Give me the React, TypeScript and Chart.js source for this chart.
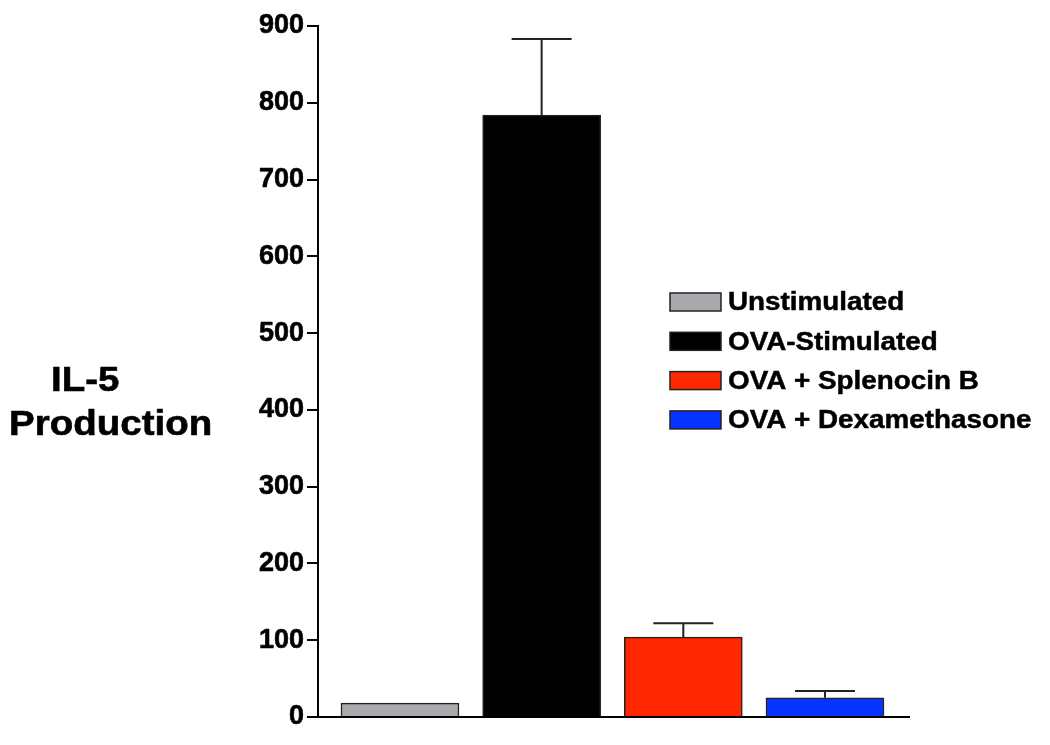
import React, { useEffect, useRef } from "react";
import { Chart, registerables } from "chart.js";

Chart.register(...registerables);

const categories = ["Unstimulated", "OVA-Stimulated", "OVA + Splenocin B", "OVA + Dexamethasone"];
const values = [18, 784, 104, 25];
const errorTops = [18, 883, 122, 34];
const colors = ["#aaaaae", "#000000", "#ff2800", "#0533ff"];
const yTicks = [0, 100, 200, 300, 400, 500, 600, 700, 800, 900];
const yTitleLines = ["IL-5", "Production"];

const FONT = "'Liberation Sans', Arial, sans-serif";

export default function App() {
  const ref = useRef<HTMLCanvasElement | null>(null);

  useEffect(() => {
    const canvas = ref.current;
    if (!canvas) return;

    const extras = {
      id: "extras",
      afterDatasetsDraw(chart: any) {
        const ctx = chart.ctx;
        const xs = chart.scales.x;
        const ys = chart.scales.y;
        ctx.save();
        // error bars
        ctx.strokeStyle = "#222";
        ctx.lineWidth = 2;
        values.forEach((v, i) => {
          const x = xs.getPixelForValue(i);
          const yTop = ys.getPixelForValue(v);
          const yErr = ys.getPixelForValue(errorTops[i]);
          if (errorTops[i] <= v) return;
          ctx.beginPath();
          ctx.moveTo(x, yTop);
          ctx.lineTo(x, yErr);
          ctx.moveTo(x - 30, yErr);
          ctx.lineTo(x + 30, yErr);
          ctx.stroke();
        });
        // y title
        ctx.fillStyle = "#000";
        ctx.strokeStyle = "#000";
        ctx.lineWidth = 0.6;
        ctx.font = `bold 35px ${FONT}`;
        ctx.textBaseline = "alphabetic";
        ctx.textAlign = "left";
        ctx.save();
        ctx.translate(51, 391);
        ctx.scale(1.1, 1);
        ctx.fillText(yTitleLines[0], 0, 0);
        ctx.strokeText(yTitleLines[0], 0, 0);
        ctx.restore();
        ctx.save();
        ctx.translate(9, 435);
        ctx.scale(1.1, 1);
        ctx.fillText(yTitleLines[1], 0, 0);
        ctx.strokeText(yTitleLines[1], 0, 0);
        ctx.restore();
        // legend
        ctx.font = `bold 26.5px ${FONT}`;
        ctx.textBaseline = "middle";
        categories.forEach((c, i) => {
          const cy = 302 + i * 39.3;
          ctx.fillStyle = colors[i];
          ctx.fillRect(670, cy - 9, 51, 18);
          ctx.strokeStyle = "#222";
          ctx.lineWidth = 1.5;
          ctx.strokeRect(670, cy - 9, 51, 18);
          ctx.fillStyle = "#000";
          ctx.save();
          ctx.translate(728, cy + 1);
          ctx.scale(1.05, 1);
          ctx.fillText(c, 0, 0);
          ctx.strokeStyle = "#000";
          ctx.lineWidth = 0.5;
          ctx.strokeText(c, 0, 0);
          ctx.restore();
        });
        ctx.restore();
      },
    };

    const chart = new Chart(canvas, {
      type: "bar",
      data: {
        datasets: [
          {
            data: values.map((v, i) => ({ x: i, y: v })),
            backgroundColor: colors,
            borderColor: "#222",
            borderWidth: 1.5,
            barThickness: 118,
          } as any,
        ],
      },
      options: {
        animation: false,
        responsive: false,
        maintainAspectRatio: false,
        layout: { padding: { top: 26, right: 141, left: 0, bottom: 0 } },
        plugins: {
          legend: { display: false },
          tooltip: { enabled: false },
        },
        scales: {
          x: {
            type: "linear",
            offset: false,
            min: -0.5786,
            max: 3.593,
            ticks: { display: false },
            grid: { display: false, drawTicks: false, offset: false },
            border: { display: true, color: "#000", width: 2 },
            afterFit(scale: any) {
              scale.height = 28;
            },
          },
          y: {
            min: 0,
            max: 900,
            afterBuildTicks(scale: any) {
              scale.ticks = yTicks.map((v) => ({ value: v }));
            },
            ticks: {
              color: "#000",
              padding: 3,
              textStrokeColor: "#000",
              textStrokeWidth: 0.6,
              font: { family: FONT, weight: "bold", size: 27 },
            } as any,
            grid: {
              display: true,
              drawOnChartArea: false,
              drawTicks: true,
              tickLength: 11,
              color: "#000",
              lineWidth: 2,
            },
            border: { display: true, color: "#000", width: 2 },
            afterFit(scale: any) {
              scale.width = 318;
            },
          },
        },
      },
      plugins: [extras],
    });
    return () => chart.destroy();
  }, []);

  return (
    <div style={{ position: "fixed", left: 0, top: 0, width: 1050, height: 745, background: "#fff" }}>
      <canvas ref={ref} width={1050} height={745} style={{ width: 1050, height: 745 }} />
    </div>
  );
}
